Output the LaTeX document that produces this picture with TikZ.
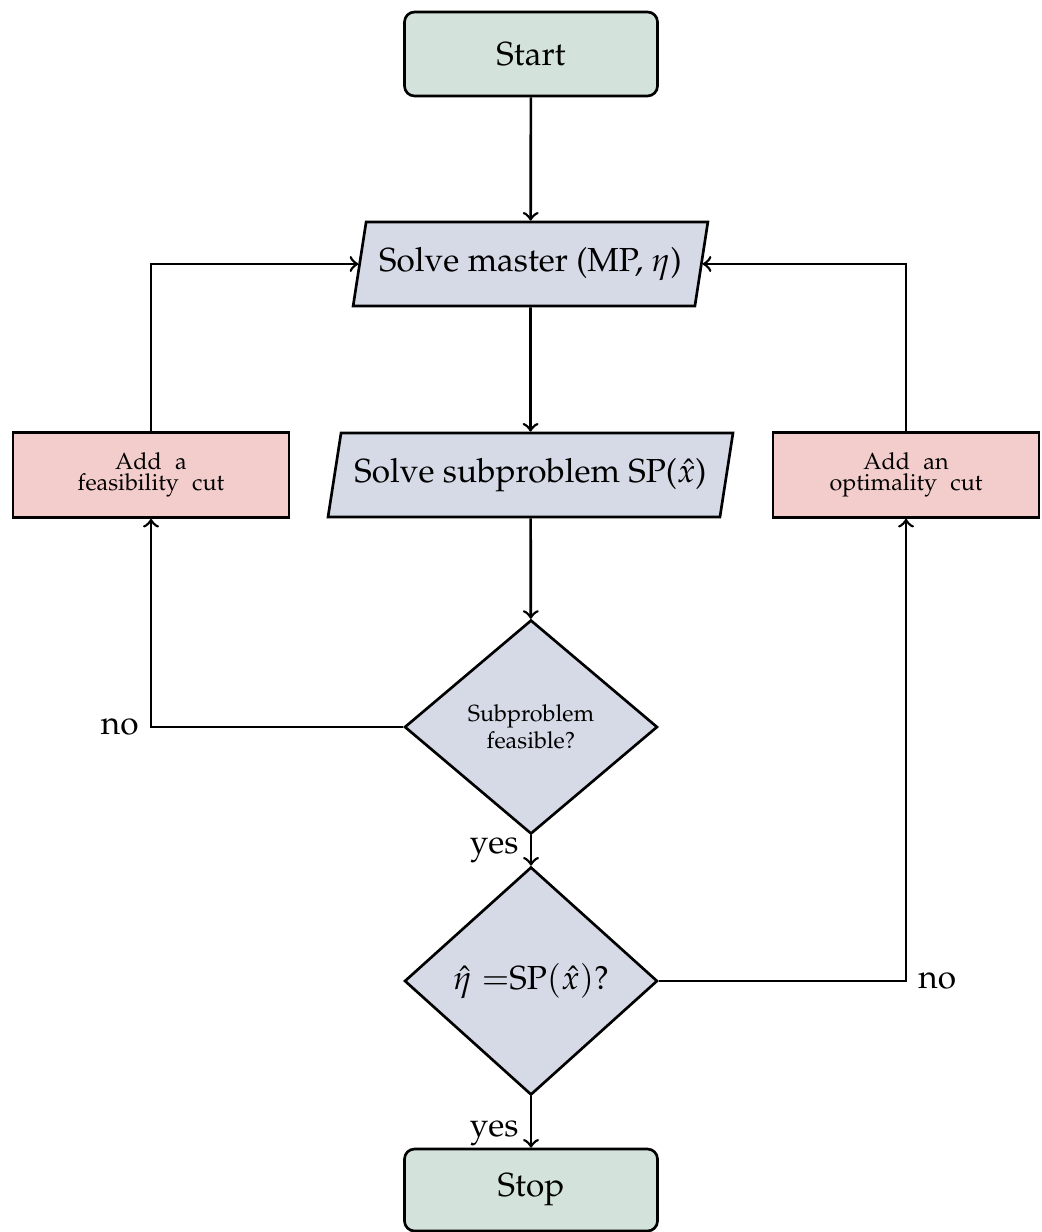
\documentclass[tikz,border=0pt]{standalone}
\usepackage[T1]{fontenc}
\usepackage{mathpazo}
\usetikzlibrary{shapes.geometric}
\definecolor{termfill}{RGB}{211,227,219}
\definecolor{cutfill}{RGB}{243,204,204}
\definecolor{stepfill}{RGB}{214,218,230}
\newcommand{\cutfont}{\fontsize{7}{6.2}\selectfont\spaceskip 4pt\relax}
\begin{document}
\begin{tikzpicture}[x=0.3pt,y=-0.3pt,thick,
  terminal/.style={draw,rounded corners=3pt,fill=termfill,minimum width=75.9pt,minimum height=25.2pt},
  process/.style={draw,trapezium,trapezium left angle=77,trapezium right angle=103,
    trapezium stretches=true,fill=stepfill,minimum height=25.2pt},
  cutbox/.style={draw,fill=cutfill,minimum height=25.5pt,align=center,font=\cutfont},
  decision/.style={draw,diamond,fill=stepfill,inner sep=0pt,minimum width=75.9pt,align=center}]
\useasboundingbox (0,0) rectangle (1041,1232);
\node[terminal] (start) at (531,54) {Start};
\node[process,minimum width=106.5pt] (master) at (530.5,264) {Solve master (MP, $\eta$)};
\node[process,minimum width=121.5pt] (sub) at (530.5,475) {Solve subproblem SP($\hat{x}$)};
\node[cutbox,minimum width=82.8pt] (feascut) at (151,475) {Add a\\feasibility cut};
\node[cutbox,minimum width=79.8pt] (optcut) at (906,475) {Add an\\optimality cut};
\node[decision,minimum height=64.2pt,font=\scriptsize] (feas) at (531,727) {Subproblem\\feasible?};
\node[decision,minimum height=68.4pt] (opt) at (531,981) {$\hat{\eta} =$SP$(\hat{x})$?};
\node[terminal,minimum height=24.6pt] (stop) at (531,1190) {Stop};
\draw[->] (start) -- (master);
\draw[->] (master) -- (sub);
\draw[->] (sub) -- (feas);
\draw[->] (feas) -- node[left] (yesfeas) {yes} (opt);
\draw[->] (opt) -- node[left,pos=0.72] (yesopt) {yes} (stop);
\draw[->] (feas.west) -| node[pos=0.5,left] (nofeas) {no} (feascut.south);
\draw[->] (opt.east) -| node[pos=0.5,right] (noopt) {no} (optcut.south);
\draw[->] (feascut.north) |- (master.west);
\draw[->] (optcut.north) |- (master.east);
\end{tikzpicture}
\end{document}
